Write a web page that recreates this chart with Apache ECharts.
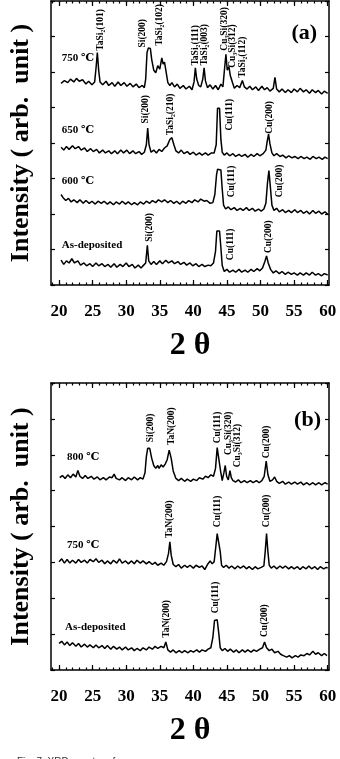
<!DOCTYPE html>
<html>
<head>
<meta charset="utf-8">
<script src="https://cdn.jsdelivr.net/npm/echarts@6/dist/echarts.min.js"></script>
<style>
  html, body { margin: 0; padding: 0; background: #fff; }
  #chart { width: 340px; height: 759px; }
</style>
</head>
<body>
<div id="chart"></div>
<script>
// x range in 2-theta (degrees), y is stacked intensity in arbitrary units (0..8 per panel)
const xTicksMinor = [19,20,21,22,23,24,25,26,27,28,29,30,31,32,33,34,35,36,37,38,39,40,41,42,43,44,45,46,47,48,49,50,51,52,53,54,55,56,57,58,59,60];
const xTicksMajor = [20, 25, 30, 35, 40, 45, 50, 55, 60];

// panel (a)
const a750 = [[20.3,5.68],[20.8,5.76],[21.3,5.70],[21.7,5.80],[22.2,5.72],[22.6,5.82],[23.0,5.74],[23.5,5.78],[24.0,5.66],[24.4,5.74],[24.9,5.64],[25.3,5.72],[25.5,6.10],[25.7,6.55],[25.9,6.05],[26.1,5.72],[26.5,5.64],[27.0,5.74],[27.4,5.62],[27.9,5.70],[28.3,5.60],[28.8,5.72],[29.2,5.62],[29.7,5.70],[30.1,5.60],[30.6,5.68],[31.0,5.58],[31.5,5.66],[31.9,5.56],[32.4,5.62],[32.7,5.56],[32.9,5.80],[33.1,6.55],[33.3,6.68],[33.6,6.66],[33.8,6.35],[34.1,6.05],[34.4,5.98],[34.7,6.18],[35.0,6.08],[35.3,6.40],[35.5,6.22],[35.7,6.28],[35.9,6.05],[36.2,5.70],[36.5,5.62],[36.8,5.70],[37.2,5.58],[37.6,5.66],[38.0,5.54],[38.5,5.62],[38.9,5.52],[39.4,5.60],[39.8,5.50],[40.1,5.72],[40.3,6.12],[40.5,5.80],[40.8,5.62],[41.1,5.58],[41.4,5.80],[41.6,6.12],[41.8,5.75],[42.1,5.56],[42.5,5.64],[42.9,5.52],[43.3,5.62],[43.7,5.50],[44.1,5.66],[44.4,5.58],[44.6,6.00],[44.85,6.50],[45.05,6.05],[45.3,6.15],[45.5,5.90],[45.8,5.72],[46.1,5.54],[46.5,5.62],[46.9,5.56],[47.3,5.76],[47.6,5.58],[48.0,5.52],[48.4,5.60],[48.8,5.50],[49.3,5.58],[49.7,5.48],[50.2,5.60],[50.6,5.50],[51.0,5.56],[51.4,5.46],[51.9,5.54],[52.15,5.85],[52.4,5.52],[52.8,5.44],[53.2,5.52],[53.7,5.42],[54.1,5.50],[54.6,5.42],[55.0,5.52],[55.5,5.44],[55.9,5.54],[56.4,5.44],[56.8,5.50],[57.3,5.40],[57.7,5.50],[58.2,5.42],[58.6,5.48],[59.1,5.38],[59.5,5.46],[60.0,5.40]];
const a650 = [[20.3,3.88],[20.7,3.80],[21.1,3.90],[21.5,3.82],[22.0,3.92],[22.4,3.84],[22.9,3.90],[23.3,3.80],[23.8,3.86],[24.2,3.76],[24.7,3.84],[25.1,3.76],[25.6,3.82],[26.0,3.72],[26.5,3.80],[26.9,3.72],[27.4,3.78],[27.8,3.70],[28.3,3.78],[28.7,3.70],[29.2,3.80],[29.6,3.72],[30.1,3.80],[30.5,3.70],[31.0,3.78],[31.4,3.70],[31.9,3.76],[32.3,3.68],[32.7,3.74],[33.0,3.95],[33.2,4.42],[33.4,3.95],[33.7,3.74],[34.1,3.80],[34.5,3.72],[34.9,3.82],[35.3,3.76],[35.7,3.86],[36.1,3.92],[36.5,4.10],[36.8,4.15],[37.1,3.95],[37.4,3.78],[37.8,3.72],[38.2,3.80],[38.6,3.70],[39.1,3.76],[39.5,3.68],[40.0,3.74],[40.4,3.66],[40.9,3.72],[41.3,3.66],[41.8,3.72],[42.2,3.66],[42.7,3.72],[43.1,3.72],[43.4,3.95],[43.6,4.98],[43.9,4.98],[44.1,4.10],[44.3,3.74],[44.6,3.66],[45.0,3.72],[45.4,3.64],[45.9,3.70],[46.3,3.62],[46.8,3.68],[47.2,3.62],[47.7,3.68],[48.1,3.60],[48.6,3.68],[49.0,3.62],[49.5,3.70],[49.9,3.64],[50.4,3.70],[50.8,3.80],[51.0,4.05],[51.2,4.25],[51.4,3.98],[51.7,3.72],[52.0,3.64],[52.4,3.70],[52.9,3.62],[53.3,3.66],[53.8,3.58],[54.2,3.64],[54.7,3.58],[55.1,3.62],[55.6,3.56],[56.0,3.62],[56.5,3.56],[56.9,3.60],[57.4,3.54],[57.8,3.62],[58.3,3.56],[58.7,3.60],[59.2,3.54],[59.6,3.60],[60.0,3.56]];
const a600 = [[20.3,2.55],[20.6,2.46],[21.0,2.38],[21.4,2.44],[21.8,2.34],[22.2,2.40],[22.7,2.32],[23.1,2.40],[23.6,2.30],[24.0,2.38],[24.5,2.30],[24.9,2.36],[25.4,2.28],[25.8,2.36],[26.3,2.30],[26.7,2.36],[27.2,2.28],[27.6,2.34],[28.1,2.26],[28.5,2.34],[29.0,2.28],[29.4,2.36],[29.9,2.28],[30.3,2.34],[30.8,2.26],[31.2,2.32],[31.7,2.26],[32.1,2.34],[32.6,2.28],[33.0,2.36],[33.5,2.30],[33.9,2.38],[34.4,2.32],[34.8,2.40],[35.3,2.34],[35.7,2.40],[36.2,2.32],[36.6,2.38],[37.1,2.30],[37.5,2.36],[38.0,2.28],[38.4,2.36],[38.9,2.30],[39.3,2.38],[39.8,2.32],[40.2,2.40],[40.7,2.34],[41.1,2.42],[41.6,2.36],[42.0,2.38],[42.5,2.30],[42.9,2.32],[43.2,2.55],[43.45,3.10],[43.6,3.26],[44.1,3.24],[44.3,2.70],[44.5,2.25],[44.8,2.14],[45.2,2.20],[45.6,2.12],[46.1,2.18],[46.5,2.10],[47.0,2.16],[47.4,2.10],[47.9,2.18],[48.3,2.10],[48.8,2.16],[49.2,2.08],[49.7,2.14],[50.1,2.08],[50.5,2.14],[50.8,2.30],[51.05,2.90],[51.25,3.22],[51.45,2.80],[51.7,2.25],[52.0,2.10],[52.4,2.16],[52.8,2.06],[53.3,2.12],[53.7,2.04],[54.2,2.10],[54.6,2.04],[55.1,2.12],[55.5,2.04],[56.0,2.10],[56.4,2.02],[56.9,2.08],[57.3,2.00],[57.8,2.10],[58.2,2.02],[58.7,2.08],[59.1,2.00],[59.6,2.06],[60.0,2.00]];
const aAsDep = [[20.3,0.70],[20.7,0.58],[21.1,0.68],[21.5,0.62],[21.9,0.74],[22.3,0.62],[22.8,0.68],[23.2,0.56],[23.7,0.62],[24.1,0.54],[24.6,0.60],[25.0,0.52],[25.5,0.62],[25.9,0.54],[26.4,0.60],[26.8,0.52],[27.3,0.58],[27.7,0.50],[28.2,0.60],[28.6,0.50],[29.1,0.58],[29.5,0.52],[30.0,0.62],[30.4,0.52],[30.9,0.58],[31.3,0.48],[31.8,0.56],[32.2,0.48],[32.6,0.56],[32.9,0.62],[33.15,1.12],[33.35,0.68],[33.7,0.58],[34.1,0.66],[34.5,0.58],[35.0,0.68],[35.4,0.60],[35.9,0.70],[36.3,0.62],[36.8,0.68],[37.2,0.60],[37.7,0.66],[38.1,0.58],[38.6,0.64],[39.0,0.56],[39.5,0.62],[39.9,0.54],[40.4,0.60],[40.8,0.52],[41.3,0.58],[41.7,0.52],[42.2,0.56],[42.6,0.54],[43.0,0.62],[43.3,0.95],[43.5,1.52],[43.9,1.52],[44.1,1.05],[44.3,0.55],[44.6,0.38],[45.0,0.44],[45.4,0.36],[45.9,0.42],[46.3,0.36],[46.8,0.44],[47.2,0.36],[47.7,0.42],[48.1,0.36],[48.6,0.44],[49.0,0.38],[49.5,0.46],[49.9,0.40],[50.3,0.48],[50.65,0.66],[50.9,0.82],[51.15,0.62],[51.5,0.44],[51.9,0.34],[52.3,0.40],[52.8,0.32],[53.2,0.38],[53.7,0.30],[54.1,0.36],[54.6,0.30],[55.0,0.34],[55.5,0.28],[55.9,0.34],[56.4,0.28],[56.8,0.34],[57.3,0.28],[57.7,0.36],[58.2,0.28],[58.6,0.32],[59.1,0.26],[59.5,0.32],[60.0,0.28]];

// panel (b)
const b800 = [[20.1,5.36],[20.5,5.42],[20.9,5.34],[21.3,5.44],[21.7,5.36],[22.1,5.46],[22.5,5.38],[22.8,5.56],[23.1,5.40],[23.5,5.34],[23.9,5.42],[24.3,5.34],[24.8,5.40],[25.2,5.32],[25.7,5.38],[26.1,5.30],[26.6,5.36],[27.0,5.30],[27.5,5.38],[27.9,5.36],[28.2,5.46],[28.5,5.34],[29.0,5.30],[29.4,5.36],[29.9,5.28],[30.3,5.36],[30.8,5.30],[31.2,5.38],[31.7,5.30],[32.1,5.36],[32.5,5.32],[32.8,5.50],[33.0,5.95],[33.2,6.18],[33.5,6.18],[33.8,5.90],[34.1,5.70],[34.4,5.62],[34.7,5.70],[34.9,5.62],[35.2,5.72],[35.5,5.66],[35.8,5.74],[36.1,5.86],[36.4,6.13],[36.7,5.90],[37.0,5.55],[37.4,5.34],[37.8,5.28],[38.2,5.34],[38.7,5.26],[39.1,5.32],[39.6,5.26],[40.0,5.32],[40.5,5.28],[40.9,5.36],[41.4,5.32],[41.8,5.40],[42.2,5.36],[42.6,5.44],[43.0,5.40],[43.3,5.62],[43.55,6.20],[43.8,6.15],[44.05,5.55],[44.3,5.28],[44.55,5.50],[44.75,5.70],[44.95,5.40],[45.2,5.30],[45.45,5.56],[45.65,5.36],[45.9,5.28],[46.3,5.24],[46.7,5.30],[47.1,5.22],[47.6,5.28],[48.0,5.22],[48.5,5.28],[48.9,5.22],[49.4,5.28],[49.8,5.22],[50.2,5.28],[50.55,5.40],[50.85,5.82],[51.1,5.45],[51.4,5.26],[51.8,5.30],[52.1,5.38],[52.4,5.26],[52.8,5.20],[53.3,5.26],[53.7,5.18],[54.2,5.24],[54.6,5.18],[55.1,5.24],[55.5,5.18],[56.0,5.24],[56.4,5.16],[56.9,5.22],[57.3,5.16],[57.8,5.22],[58.2,5.16],[58.7,5.22],[59.1,5.16],[59.6,5.22],[60.0,5.18]];
const b750 = [[20.0,3.02],[20.4,3.10],[20.8,2.98],[21.2,3.08],[21.6,2.98],[22.0,3.06],[22.5,2.98],[22.9,3.08],[23.3,3.00],[23.8,3.06],[24.2,2.98],[24.6,3.08],[25.1,3.02],[25.5,3.10],[25.9,3.00],[26.4,3.06],[26.8,2.96],[27.2,3.04],[27.7,2.96],[28.1,3.06],[28.6,2.98],[29.0,3.10],[29.4,2.98],[29.9,3.04],[30.3,2.96],[30.8,3.04],[31.2,2.96],[31.6,3.06],[32.1,2.98],[32.5,3.04],[33.0,2.96],[33.4,3.02],[33.9,2.94],[34.3,3.00],[34.7,2.92],[35.2,2.98],[35.6,2.92],[36.0,3.02],[36.3,3.25],[36.5,3.57],[36.7,3.20],[37.0,2.94],[37.4,2.88],[37.8,2.94],[38.2,2.84],[38.7,2.92],[39.1,2.86],[39.5,2.92],[40.0,2.84],[40.4,2.92],[40.9,2.86],[41.3,2.90],[41.7,2.80],[42.1,2.94],[42.5,3.04],[42.8,2.96],[43.1,3.02],[43.35,3.45],[43.55,3.80],[43.8,3.78],[44.0,3.30],[44.2,2.92],[44.5,2.86],[44.9,2.92],[45.3,2.84],[45.7,2.90],[46.2,2.82],[46.6,2.90],[47.0,2.84],[47.5,2.90],[47.9,2.82],[48.3,2.88],[48.8,2.80],[49.2,2.88],[49.6,2.82],[50.1,2.86],[50.5,2.90],[50.7,3.30],[50.9,3.80],[51.1,3.30],[51.3,2.92],[51.6,2.84],[52.0,2.90],[52.4,2.82],[52.9,2.90],[53.3,2.84],[53.7,2.90],[54.2,2.82],[54.6,2.88],[55.0,2.82],[55.5,2.88],[55.9,2.80],[56.3,2.88],[56.8,2.82],[57.2,2.90],[57.6,2.82],[58.1,2.88],[58.5,2.80],[58.9,2.88],[59.4,2.82],[59.8,2.86],[60.0,2.84]];
const bAsDep = [[20.0,0.74],[20.4,0.80],[20.8,0.70],[21.2,0.78],[21.6,0.68],[22.0,0.76],[22.5,0.66],[22.9,0.74],[23.3,0.64],[23.8,0.72],[24.2,0.64],[24.6,0.70],[25.1,0.62],[25.5,0.70],[25.9,0.62],[26.4,0.68],[26.8,0.60],[27.2,0.68],[27.7,0.58],[28.1,0.66],[28.6,0.58],[29.0,0.64],[29.4,0.56],[29.9,0.64],[30.3,0.56],[30.8,0.62],[31.2,0.54],[31.6,0.60],[32.1,0.54],[32.5,0.62],[33.0,0.56],[33.4,0.64],[33.9,0.58],[34.3,0.66],[34.7,0.60],[35.2,0.66],[35.6,0.62],[35.9,0.78],[36.2,0.56],[36.6,0.50],[37.0,0.56],[37.4,0.48],[37.9,0.54],[38.3,0.48],[38.7,0.54],[39.2,0.48],[39.6,0.54],[40.0,0.50],[40.5,0.56],[40.9,0.50],[41.3,0.56],[41.8,0.52],[42.2,0.58],[42.6,0.62],[42.9,0.90],[43.15,1.38],[43.55,1.40],[43.8,1.00],[44.0,0.62],[44.3,0.54],[44.7,0.60],[45.1,0.52],[45.5,0.58],[46.0,0.50],[46.4,0.56],[46.8,0.48],[47.3,0.56],[47.7,0.50],[48.1,0.56],[48.6,0.50],[49.0,0.56],[49.4,0.52],[49.9,0.58],[50.3,0.62],[50.6,0.78],[50.9,0.62],[51.3,0.54],[51.7,0.58],[52.1,0.48],[52.6,0.52],[53.0,0.44],[53.4,0.40],[53.9,0.36],[54.3,0.40],[54.7,0.34],[55.2,0.40],[55.6,0.36],[56.0,0.42],[56.5,0.40],[56.9,0.46],[57.3,0.42],[57.8,0.52],[58.2,0.44],[58.6,0.48],[59.1,0.40],[59.5,0.46],[59.9,0.40]];

// peak labels: [2theta, bottom of text, text]
const peaksA = [
  [26.2, 6.60, 'TaSi₂(101)'],
  [32.5, 6.69, 'Si(200)'],
  [35.0, 6.74, 'TaSi₂(102)'],
  [40.3, 6.18, 'TaSi₂(111)'],
  [41.6, 6.18, 'TaSi₂(003)'],
  [44.7, 6.60, 'Cu₃Si(320)'],
  [45.9, 6.12, 'Cu₃Si(312)'],
  [47.3, 5.84, 'TaSi₂(112)'],
  [32.9, 4.55, 'Si(200)'],
  [36.6, 4.22, 'TaSi₂(210)'],
  [45.4, 4.35, 'Cu(111)'],
  [51.3, 4.26, 'Cu(200)'],
  [45.7, 2.47, 'Cu(111)'],
  [52.8, 2.47, 'Cu(200)'],
  [33.5, 1.22, 'Si(200)'],
  [45.5, 0.70, 'Cu(111)'],
  [51.2, 0.90, 'Cu(200)']
];
const peaksB = [
  [33.6, 6.35, 'Si(200)'],
  [36.7, 6.27, 'TaN(200)'],
  [43.6, 6.32, 'Cu(111)'],
  [45.3, 5.99, 'Cu₃Si(320)'],
  [46.6, 5.65, 'Cu₃Si(312)'],
  [50.9, 5.90, 'Cu(200)'],
  [36.5, 3.68, 'TaN(200)'],
  [43.6, 3.98, 'Cu(111)'],
  [50.9, 3.98, 'Cu(200)'],
  [36.0, 0.90, 'TaN(200)'],
  [43.3, 1.58, 'Cu(111)'],
  [50.6, 0.92, 'Cu(200)']
];
// trace names: [2theta, y, text]
const tagsA = [[20.4, 6.40, '750 ℃'], [20.4, 4.35, '650 ℃'], [20.4, 2.92, '600 ℃'], [20.4, 1.12, 'As-deposited']];
const tagsB = [[21.2, 5.93, '800 ℃'], [21.2, 3.48, '750 ℃'], [20.9, 1.20, 'As-deposited']];
const panelTags = [[54.6, 7.08, '(a)'], [55.0, 6.96, '(b)']];

const serif = "'Liberation Serif', 'Times New Roman', 'DejaVu Serif', serif";
const X_MIN = 18.8, X_MAX = 60.2;

function xAxesFor(gridIndex) {
  const base = { type: 'value', gridIndex, min: X_MIN, max: X_MAX, splitLine: { show: false } };
  return [
    {
      ...base, position: 'bottom',
      axisLine: { show: true, lineStyle: { color: '#000', width: 1.5 } },
      axisTick: { show: true, inside: true, length: 2.5, customValues: xTicksMinor, lineStyle: { color: '#000', width: 1.2 } },
      axisLabel: { customValues: xTicksMajor, margin: 18, color: '#000', fontFamily: serif, fontWeight: 'bold', fontSize: 17 },
      name: '2 θ', nameLocation: 'middle', nameGap: 45,
      nameTextStyle: { color: '#000', fontFamily: serif, fontWeight: 'bold', fontSize: 32 }
    },
    {
      ...base, position: 'bottom',
      axisLine: { show: false },
      axisTick: { show: true, inside: true, length: 5, customValues: xTicksMajor, lineStyle: { color: '#000', width: 1.2 } },
      axisLabel: { show: false }
    },
    {
      ...base, position: 'top',
      axisLine: { show: true, lineStyle: { color: '#000', width: 1.5 } },
      axisTick: { show: true, inside: true, length: 2.5, customValues: xTicksMinor, lineStyle: { color: '#000', width: 1.2 } },
      axisLabel: { show: false }
    },
    {
      ...base, position: 'top',
      axisLine: { show: false },
      axisTick: { show: true, inside: true, length: 5, customValues: xTicksMajor, lineStyle: { color: '#000', width: 1.2 } },
      axisLabel: { show: false }
    }
  ];
}

function yAxesFor(gridIndex) {
  const base = {
    type: 'value', gridIndex, min: 0, max: 8, interval: 1,
    splitLine: { show: false },
    axisLine: { show: true, lineStyle: { color: '#000', width: 1.5 } },
    axisTick: { show: true, inside: true, length: 4, lineStyle: { color: '#000', width: 1.2 } },
    axisLabel: { show: false }
  };
  return [
    {
      ...base, position: 'left',
      name: 'Intensity ( arb.  unit )', nameLocation: 'middle', nameGap: 17,
      nameTextStyle: { color: '#000', fontFamily: serif, fontWeight: 'bold', fontSize: 26 }
    },
    { ...base, position: 'right' }
  ];
}

function traceSeries(data, panel) {
  return {
    type: 'line', data, xAxisIndex: panel * 4, yAxisIndex: panel * 2,
    showSymbol: false, silent: true, animation: false,
    lineStyle: { color: '#000', width: 1.5 }
  };
}

function textSeries(items, panel, opts) {
  return {
    type: 'scatter', xAxisIndex: panel * 4, yAxisIndex: panel * 2,
    symbolSize: 0, silent: true, animation: false,
    itemStyle: { opacity: 1 },
    data: items.map(d => ({ value: [d[0], d[1]], name: d[2] })),
    label: {
      show: true, formatter: '{b}', position: [0, 0],
      color: '#000', fontFamily: serif,
      align: 'left', verticalAlign: 'middle',
      ...opts
    }
  };
}

const chart = echarts.init(document.getElementById('chart'), null, { renderer: 'canvas' });

chart.setOption({
  backgroundColor: '#fff',
  animation: false,
  title: {
    text: 'Fig. 7. XRD spectra of',
    left: 12, top: 752,
    textStyle: { color: '#333', fontFamily: "'Liberation Sans', Arial, sans-serif", fontSize: 10, fontWeight: 'normal' }
  },
  grid: [
    { left: 47, right: 11, top: 1, height: 284 },
    { left: 47, right: 11, top: 383, height: 287 }
  ],
  xAxis: [...xAxesFor(0), ...xAxesFor(1)],
  yAxis: [...yAxesFor(0), ...yAxesFor(1)],
  series: [
    traceSeries(a750, 0),
    traceSeries(a650, 0),
    traceSeries(a600, 0),
    traceSeries(aAsDep, 0),
    traceSeries(b800, 1),
    traceSeries(b750, 1),
    traceSeries(bAsDep, 1),
    textSeries(peaksA, 0, { rotate: 90, fontSize: 9.5, fontWeight: 'bold' }),
    textSeries(peaksB, 1, { rotate: 90, fontSize: 9.5, fontWeight: 'bold' }),
    textSeries(tagsA, 0, { fontSize: 11, fontWeight: 'bold' }),
    textSeries(tagsB, 1, { fontSize: 11, fontWeight: 'bold' }),
    textSeries(panelTags.slice(0, 1), 0, { fontSize: 22, fontWeight: 'bold' }),
    textSeries(panelTags.slice(1), 1, { fontSize: 22, fontWeight: 'bold' })
  ]
});
</script>
</body>
</html>
